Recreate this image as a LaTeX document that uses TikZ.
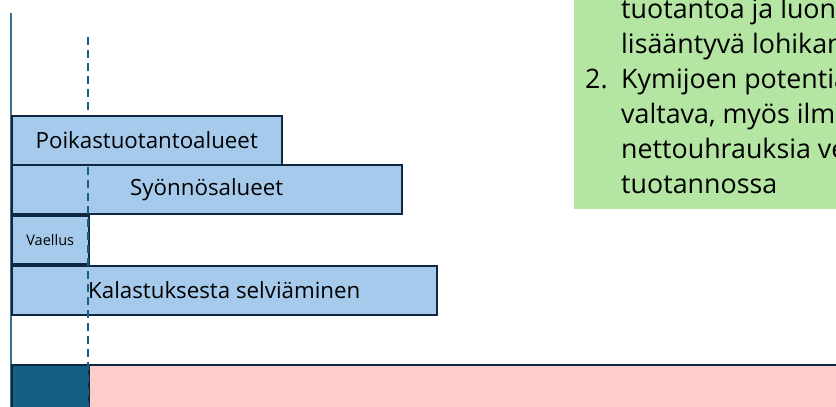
\documentclass[tikz,border=0pt]{standalone}
\usepackage{fontspec}
\setmainfont{Open Sans}
\definecolor{barblue}{HTML}{A6CAEC}
\definecolor{barline}{HTML}{0E2841}
\definecolor{deepblue}{HTML}{156082}
\definecolor{axisblue}{HTML}{3A7190}
\definecolor{softpink}{HTML}{FFCCCC}
\definecolor{notegreen}{HTML}{B4E5A2}
\tikzset{
  bar/.style = {draw=barline, fill=barblue, line width=1.5pt, anchor=north west,
    inner sep=0pt, font=\fontsize{22.3}{26}\selectfont},
  notetext/.style = {anchor=base west, inner sep=0pt, font=\fontsize{26.8}{32}\selectfont}
}

\begin{document}
\begin{tikzpicture}[x=1pt,y=-1pt]
  \clip (0,0) rectangle (836,407);
  % note box, cut off at the right
  \node (note) at (574,-10) [anchor=north west, fill=notegreen, minimum width=280pt, minimum height=219pt] {};
  \node[notetext] (num2) at (585,88) {2.};
  \foreach \txt [count=\i] in {tuotantoa ja luon, lisääntyvä lohikan, Kymijoen potentia,
      {valtava, myös ilm}, nettouhrauksia ve, tuotannossa} {%
    \node[notetext] (note\i) at (621,{18+35*(\i-1)}) {\txt};
  }
  % time axis
  \coordinate (top) at (11,13);
  \coordinate (bottom) at (11,407);
  \draw[axisblue, line width=2pt] (top) -- (bottom);
  % stages
  \node[bar, minimum width=390pt, minimum height=49pt] (feed) at (11,164) {Syönnösalueet};
  \node[bar, minimum width=77pt, minimum height=48pt, font=\fontsize{14.5}{17}\selectfont] (migr) at (11,215) {Vaellus};
  \node[bar, minimum width=425pt, minimum height=49pt] (catch) at (11,265) {Kalastuksesta selviäminen};
  \node[bar, fill=deepblue, minimum width=77pt, minimum height=50pt] (dark) at (11,364) {};
  \node[bar, fill=softpink, minimum width=760pt, minimum height=50pt] (pink) at (88,364) {};
  \coordinate (mark) at (88,37);
  \coordinate (markend) at (88,407);
  \draw[deepblue, line width=2pt, dash pattern=on 8pt off 5pt] (mark) -- (markend);
  \node[bar, minimum width=270pt, minimum height=49pt] (young) at (11,115) {Poikastuotantoalueet};
\end{tikzpicture}
\end{document}
